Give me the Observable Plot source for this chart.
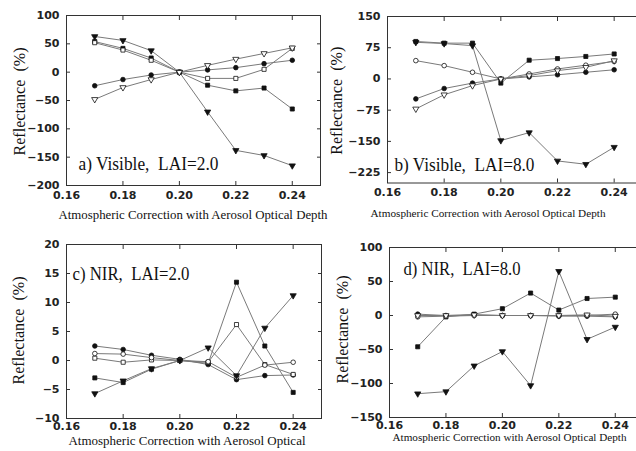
<!DOCTYPE html>
<html><head><meta charset="utf-8">
<script src="https://cdn.jsdelivr.net/npm/d3@7"></script>
<script src="https://cdn.jsdelivr.net/npm/@observablehq/plot@0.6"></script>
<style>
html,body{margin:0;padding:0;background:#fff;overflow:hidden}
#wrap{position:relative;width:636px;height:451px;overflow:hidden;background:#fff}
.panel{position:absolute}
.panel svg{max-width:none !important;background:transparent !important;overflow:visible}
.serif text{font-family:"Liberation Serif","Times New Roman","DejaVu Serif",serif !important}
</style></head><body><div id="wrap"></div>
<script>
// ---------- data ----------
const aod = [0.17, 0.18, 0.19, 0.20, 0.21, 0.22, 0.23, 0.24];
const xTicks = [0.16, 0.18, 0.20, 0.22, 0.24];

// a) Visible, LAI=2.0
const aFilledTri  = [63, 56, 38, 0, -70, -138, -147, -165];
const aFilledSq   = [54, 42, 25, 0, -23, -33, -28, -65];
const aOpenSq     = [52, 39, 21, 0, -11, -11, 5, 42];
const aFilledCirc = [-24, -13, -5, 0, 4, 8, 15, 21];
const aOpenTri    = [-48, -27, -13, 0, 12, 23, 33, 43];
const aYTicks = [-200, -150, -100, -50, 0, 50, 100];

// b) Visible, LAI=8.0
const bFilledTri  = [88, 85, 80, -148, -129, -197, -205, -164];
const bFilledSq   = [90, 86, 86, -10, 45, 49, 54, 60];
const bOpenCirc   = [44, 32, 16, 0, 12, 24, 33, 42];
const bFilledCirc = [-48, -23, -10, 0, 5, 10, 16, 22];
const bOpenTri    = [-72, -38, -16, 0, 8, 20, 28, 44];
const bYTicks = [-225, -150, -75, 0, 75, 150];

// c) NIR, LAI=2.0
const cFilledCirc = [2.5, 1.9, 0.9, 0.2, -0.7, -3.3, -2.6, -2.5];
const cFilledSq   = [-3.0, -3.8, -1.5, 0, -0.5, 13.5, 2.5, -5.5];
const cOpenSq     = [0.4, -0.3, 0.1, 0, -0.3, 6.2, -0.7, -2.4];
const cOpenCirc   = [1.2, 1.1, 0.5, 0, -0.2, -2.9, -0.8, -0.3];
const cFilledTri  = [-5.7, -3.5, -1.4, 0, 2.2, -2.6, 5.6, 11.2];
const cYTicks = [-10, -5, 0, 5, 10, 15, 20];

// d) NIR, LAI=8.0
const dFilledTri  = [-115, -112, -74, -53, -103, 65, -35, -17];
const dFilledSq   = [-46, -2, 2, 10, 33, 8, 25, 27];
const dFilledCirc = [2, 0, 1, 0, 0, -1, -1, -2];
const dOpenCirc   = [-2, -1, 0, 0, 0, 0, 0, 2];
const dOpenTri    = [0, 0, 1, 0, 0, 0, 1, -1];
const dYTicks = [-150, -100, -50, 0, 50, 100];

const yLabel = "Reflectance  (%)";
const xLabelFull = "Atmospheric Correction with Aerosol Optical Depth";
const xLabelCut = "Atmospheric Correction with Aerosol Optical";

// ---------- styles ----------
const markerStyle = {
  filledTri:  {symbol: "triangle", fill: "#111", rotate: 180},
  openTri:    {symbol: "triangle", fill: "white", rotate: 180},
  filledSq:   {symbol: "square", fill: "#111", rotate: 0},
  openSq:     {symbol: "square", fill: "white", rotate: 0},
  filledCirc: {symbol: "circle", fill: "#111", rotate: 0},
  openCirc:   {symbol: "circle", fill: "white", rotate: 0}
};

const panels = [
  {left: 0, top: 0, width: 330, height: 225, mL: 66, mR: 10, mT: 15, mB: 40,
   yDomain: [-200, 100], yTicks: aYTicks,
   series: [["filledTri", aFilledTri], ["filledSq", aFilledSq], ["openSq", aOpenSq], ["filledCirc", aFilledCirc], ["openTri", aOpenTri]],
   note: "a) Visible,  LAI=2.0", noteAnchor: "bottom-left", noteDx: 12, noteDy: -16, noteLen: 140,
   xLabel: xLabelFull, xlDx: 126.5, xlDy: 33, xlLen: 269, xlSize: 12,
   ylDx: -47, ylDy: 1, xtPad: 6, ytPad: 7},
  {left: 318, top: 0, width: 330, height: 225, mL: 69, mR: 6, mT: 16, mB: 42.5,
   yDomain: [-250, 150], yTicks: bYTicks,
   series: [["filledTri", bFilledTri], ["filledSq", bFilledSq], ["openCirc", bOpenCirc], ["filledCirc", bFilledCirc], ["openTri", bOpenTri]],
   note: "b) Visible,  LAI=8.0", noteAnchor: "bottom-left", noteDx: 7, noteDy: -12.5, noteLen: 140,
   xLabel: xLabelFull, xlDx: 100.5, xlDy: 33.5, xlLen: 235, xlSize: 10.5,
   ylDx: -51, ylDy: 1, xtPad: 5, ytPad: 7},
  {left: 0, top: 225, width: 330, height: 226, mL: 66, mR: 9, mT: 19, mB: 33,
   yDomain: [-10, 20], yTicks: cYTicks,
   series: [["filledCirc", cFilledCirc], ["filledSq", cFilledSq], ["openSq", cOpenSq], ["openCirc", cOpenCirc], ["filledTri", cFilledTri]],
   note: "c) NIR,  LAI=2.0", noteAnchor: "top-left", noteDx: 6, noteDy: 23, noteLen: 117,
   xLabel: xLabelCut, xlDx: 120.5, xlDy: 26, xlLen: 237, xlSize: 12,
   ylDx: -48, ylDy: -1, xtPad: 4, ytPad: 7},
  {left: 318, top: 225, width: 330, height: 226, mL: 71, mR: 5, mT: 22, mB: 34,
   yDomain: [-150, 100], yTicks: dYTicks,
   series: [["filledTri", dFilledTri], ["filledSq", dFilledSq], ["filledCirc", dFilledCirc], ["openCirc", dOpenCirc], ["openTri", dOpenTri]],
   note: "d) NIR,  LAI=8.0", noteAnchor: "top-left", noteDx: 14, noteDy: 15, noteLen: 117,
   xLabel: xLabelFull, xlDx: 120, xlDy: 23, xlLen: 234, xlSize: 10.5,
   ylDx: -47, ylDy: -3, xtPad: 4, ytPad: 7}
];

const wrap = document.getElementById("wrap");
const serifFont = "Liberation Serif, Times New Roman, DejaVu Serif, serif";

for (const p of panels) {
  const rows = [];
  p.series.forEach(([key, vals]) => {
    vals.forEach((v, i) => rows.push({key, x: aod[i], y: v}));
  });
  const marks = [
    Plot.frame({stroke: "#333", strokeWidth: 1}),
    Plot.axisX({anchor: "bottom", ticks: xTicks, tickSize: 0, tickPadding: p.xtPad, tickFormat: d3.format(".2f"),
      label: null, fontSize: 11, fontFamily: "DejaVu Sans", fontWeight: "bold", fill: "#222"}),
    Plot.axisY({anchor: "left", ticks: p.yTicks, tickSize: 0, tickPadding: p.ytPad, tickFormat: d3.format("d"),
      label: null, fontSize: 11, fontFamily: "DejaVu Sans", fontWeight: "bold", fill: "#222"}),
    Plot.axisX({anchor: "bottom", ticks: xTicks, tickSize: -4, fill: "none", stroke: "#333"}),
    Plot.axisX({anchor: "top", ticks: xTicks, tickSize: -4, fill: "none", stroke: "#333"}),
    Plot.axisY({anchor: "left", ticks: p.yTicks, tickSize: -4, fill: "none", stroke: "#333"}),
    Plot.axisY({anchor: "right", ticks: p.yTicks, tickSize: -4, fill: "none", stroke: "#333"})
  ];
  for (const [key] of p.series) {
    const d = rows.filter(r => r.key === key);
    marks.push(Plot.line(d, {x: "x", y: "y", stroke: "#7a7a7a", strokeWidth: 1}));
  }
  for (const [key] of p.series) {
    const s = markerStyle[key];
    const d = rows.filter(r => r.key === key);
    marks.push(Plot.dot(d, {x: "x", y: "y", symbol: () => s.symbol, r: 2.3, fill: s.fill, stroke: "#111", strokeWidth: 0.8, rotate: s.rotate}));
  }
  marks.push(
    Plot.text([p.note], {frameAnchor: p.noteAnchor, text: d => d, textAnchor: "start", dx: p.noteDx, dy: p.noteDy,
      fontSize: 18, fontFamily: serifFont, fill: "#111"}),
    Plot.text([p.xLabel], {frameAnchor: "bottom-left", text: d => d, textAnchor: "middle", dx: p.xlDx, dy: p.xlDy,
      fontSize: p.xlSize, fontFamily: serifFont, fill: "#111"}),
    Plot.text([yLabel], {frameAnchor: "left", text: d => d, textAnchor: "middle", rotate: -90, dx: p.ylDx, dy: p.ylDy,
      fontSize: 16, fontFamily: serifFont, fill: "#111"})
  );
  const svg = Plot.plot({
    width: p.width, height: p.height,
    marginLeft: p.mL, marginRight: p.mR, marginTop: p.mT, marginBottom: p.mB,
    x: {domain: [0.16, 0.25]},
    y: {domain: p.yDomain},
    symbol: {type: "identity"},
    style: {background: "transparent", overflow: "visible"},
    marks
  });
  const lens = {[p.note]: p.noteLen, [p.xLabel]: p.xlLen, [yLabel]: 108};
  d3.select(svg).selectAll('g[aria-label="text"]').classed("serif", true);
  d3.select(svg).selectAll('g[aria-label="text"] text').each(function() {
    const t = this.textContent;
    if (lens[t]) {
      d3.select(this).attr("textLength", lens[t]).attr("lengthAdjust", "spacingAndGlyphs");
    }
  });
  const div = document.createElement("div");
  div.className = "panel";
  div.style.left = p.left + "px";
  div.style.top = p.top + "px";
  div.style.width = p.width + "px";
  div.appendChild(svg);
  wrap.appendChild(div);
}
</script></body></html>
